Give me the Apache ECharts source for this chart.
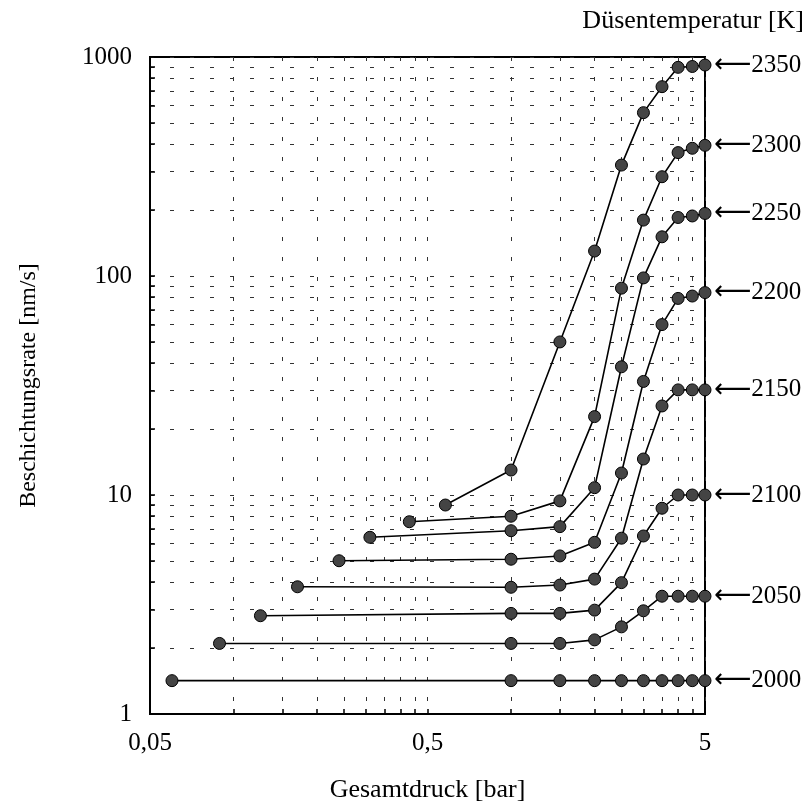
<!DOCTYPE html>
<html>
<head>
<meta charset="utf-8">
<script src="https://cdn.jsdelivr.net/npm/echarts@6/dist/echarts.min.js"></script>
<style>
  html, body { margin: 0; padding: 0; background: #fff; }
  #chart { width: 811px; height: 803px; }
</style>
</head>
<body>
<div id="chart"></div>
<script>
// Düsentemperatur [K] for each curve
var temps = [2000, 2050, 2100, 2150, 2200, 2250, 2300, 2350];
// left-most point of each curve (pressure in bar, rate in nm/s)
var startP = [0.06, 0.089, 0.125, 0.17, 0.24, 0.31, 0.43, 0.58];
var startR = [1.42, 2.1, 2.81, 3.81, 5.01, 6.41, 7.55, 9.0];
// common pressure steps (bar)
var pressures = [1, 1.5, 2, 2.5, 3, 3.5, 4, 4.5, 5];
// rates (nm/s) at those pressures
var r2000 = [1.42, 1.42, 1.42, 1.42, 1.42, 1.42, 1.42, 1.42, 1.42];
var r2050 = [2.1, 2.1, 2.18, 2.5, 2.96, 3.45, 3.45, 3.45, 3.45];
var r2100 = [2.88, 2.88, 2.98, 3.98, 6.5, 8.7, 10, 10, 10];
var r2150 = [3.79, 3.88, 4.13, 6.35, 14.6, 25.5, 30.2, 30.2, 30.2];
var r2200 = [5.09, 5.27, 6.08, 12.6, 33, 60, 79, 81, 84];
var r2250 = [6.87, 7.17, 10.8, 38.5, 98, 151, 185, 188, 193];
var r2300 = [8.0, 9.4, 22.8, 88, 180, 284, 366, 383, 395];
var r2350 = [13, 50, 130, 321, 557, 732, 897, 905, 919];
var rates = [r2000, r2050, r2100, r2150, r2200, r2250, r2300, r2350];

// axis ticks / labels
var xLabels = [0.05, 0.5, 5];
var xTicks = [0.05, 0.1, 0.15, 0.2, 0.25, 0.3, 0.35, 0.4, 0.45, 0.5,
              1, 1.5, 2, 2.5, 3, 3.5, 4, 4.5, 5];
var yLabels = [1, 10, 100, 1000];
var yTicks = [1, 2, 3, 4, 5, 6, 7, 8, 9, 10, 20, 30, 40, 50, 60, 70, 80, 90,
              100, 200, 300, 400, 500, 600, 700, 800, 900, 1000];

var serif = '"Liberation Serif", "DejaVu Serif", serif';
var gridLine = { show: true, lineStyle: { color: '#333', width: 1, type: [4, 16] } };

var chart = echarts.init(document.getElementById('chart'));

var series = temps.map(function (t, i) {
    var data = [[startP[i], startR[i]]];
    pressures.forEach(function (p, j) { data.push([p, rates[i][j]]); });
    return {
        name: String(t),
        type: 'line',
        data: data,
        symbol: 'circle',
        symbolSize: 12,
        showSymbol: true,
        clip: false,
        lineStyle: { color: '#000', width: 1.6 },
        itemStyle: { color: '#444', borderColor: '#000', borderWidth: 1 },
        endLabel: {
            show: true,
            distance: 9,
            formatter: '{a|\u27F5}{t|' + t + '}',
            rich: {
                a: { fontFamily: '"DejaVu Sans"', fontSize: 26, color: '#000' },
                t: { fontFamily: serif, fontSize: 25, color: '#000' }
            }
        },
        animation: false
    };
});

chart.setOption({
    animation: false,
    title: {
        text: 'Düsentemperatur [K]',
        right: 2,
        top: 3,
        textStyle: { fontFamily: serif, fontSize: 26, fontWeight: 'normal', color: '#000' }
    },
    grid: {
        left: 150, right: 106, top: 57, bottom: 89,
        outerBoundsMode: 'none',
        containLabel: false,
        show: true, borderColor: '#000', borderWidth: 2
    },
    xAxis: {
        type: 'log',
        logBase: 10,
        min: 0.05,
        max: 5,
        name: 'Gesamtdruck [bar]',
        nameLocation: 'middle',
        nameGap: 63,
        nameTextStyle: { fontFamily: serif, fontSize: 26, color: '#000' },
        axisLine: { show: true, lineStyle: { color: '#000', width: 2 } },
        axisTick: { show: true, inside: true, length: 5, customValues: xTicks, lineStyle: { color: '#000', width: 1.5 } },
        axisLabel: {
            customValues: xLabels,
            margin: 17,
            fontFamily: serif, fontSize: 25, color: '#000',
            formatter: function (v) { return String(v).replace('.', ','); }
        },
        splitLine: gridLine,
        minorTick: { show: false }
    },
    yAxis: {
        type: 'log',
        logBase: 10,
        min: 1,
        max: 1000,
        name: 'Beschichtungsrate [nm/s]',
        nameLocation: 'middle',
        nameGap: 109,
        nameTextStyle: { fontFamily: serif, fontSize: 24, color: '#000' },
        axisLine: { show: true, lineStyle: { color: '#000', width: 2 } },
        axisTick: { show: true, inside: true, length: 5, customValues: yTicks, lineStyle: { color: '#000', width: 1.5 } },
        axisLabel: {
            customValues: yLabels,
            margin: 18,
            fontFamily: serif, fontSize: 25, color: '#000',
            formatter: function (v) { return String(v); }
        },
        splitLine: gridLine,
        minorTick: { show: false }
    },
    series: series
});
</script>
</body>
</html>
